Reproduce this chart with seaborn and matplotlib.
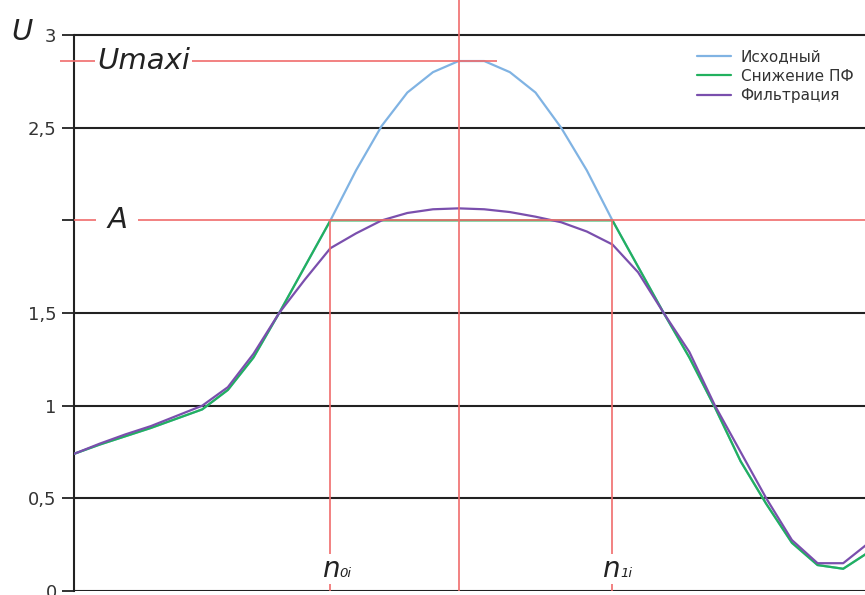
import numpy as np
import pandas as pd
import matplotlib
matplotlib.use("Agg")
import matplotlib.pyplot as plt
import seaborn as sns

# === Data ===
n = list(range(32))

u_source = [0.74, 0.79, 0.835, 0.88, 0.93, 0.98, 1.085, 1.26, 1.50, 1.75,
            2.00, 2.27, 2.51, 2.69, 2.80, 2.86, 2.86, 2.80, 2.69, 2.50,
            2.27, 2.00, 1.75, 1.50, 1.26, 0.99, 0.70, 0.47, 0.26, 0.14,
            0.12, 0.21]

u_clipped = [0.74, 0.79, 0.835, 0.88, 0.93, 0.98, 1.085, 1.26, 1.50, 1.75,
             2.00, 2.00, 2.00, 2.00, 2.00, 2.00, 2.00, 2.00, 2.00, 2.00,
             2.00, 2.00, 1.75, 1.50, 1.26, 0.99, 0.70, 0.47, 0.26, 0.14,
             0.12, 0.21]

u_filtered = [0.74, 0.795, 0.845, 0.89, 0.945, 1.00, 1.10, 1.28, 1.50, 1.68,
              1.85, 1.93, 2.00, 2.04, 2.06, 2.065, 2.06, 2.045, 2.02, 1.99,
              1.94, 1.87, 1.72, 1.50, 1.29, 1.00, 0.75, 0.50, 0.275, 0.15,
              0.15, 0.26]

series_names = ["Исходный", "Снижение ПФ", "Фильтрация"]
colors = ["#80B3E3", "#22B15E", "#7A4FAD"]

y_ticks = [0, 0.5, 1, 1.5, 2, 2.5, 3]
y_labels = ["0", "0,5", "1", "1,5", "", "2,5", "3"]
grid_levels = [0, 0.5, 1, 1.5, 2.5, 3]

level_a = 2.0
level_umax = 2.86
n0 = 10
n1 = 21
n_center = 15

# === Setup ===
sns.set_theme(style="white")
plt.rcParams["font.family"] = ["DejaVu Sans"]

df = pd.DataFrame({
    "n": n * 3,
    "U": u_source + u_clipped + u_filtered,
    "series": [series_names[0]] * len(n) + [series_names[1]] * len(n) + [series_names[2]] * len(n),
})

W, H = 865, 595
fig = plt.figure(figsize=(W / 100, H / 100), dpi=100)
ax = fig.add_axes([74 / W, 4 / H, 1 - 74 / W, 591 / H])

red = "#F06C6C"
dark = "#222222"

for g in grid_levels:
    ax.axhline(g, color=dark, lw=1.5, zorder=1)

sns.lineplot(data=df, x="n", y="U", hue="series", hue_order=series_names,
             palette=colors, linewidth=1.6, ax=ax, zorder=3)

# red construction lines
ax.hlines(level_a, 0, 31, color=red, lw=1.2, zorder=4, clip_on=False)
ax.hlines(level_umax, -0.55, 16.5, color=red, lw=1.2, zorder=4, clip_on=False)
ax.vlines([n0, n1], 0, level_a, color=red, lw=1.2, zorder=4)
ax.axvline(n_center, color=red, lw=1.2, zorder=4)

ax.set_xlim(0, (W - 74) / 25.64)
ax.set_ylim(0, 591 / 185.3)

for side in ["top", "right", "bottom"]:
    ax.spines[side].set_visible(False)
ax.spines["left"].set_bounds(0, 3)
ax.spines["left"].set_color(dark)
ax.spines["left"].set_linewidth(1.5)

ax.set_xticks([])
ax.set_yticks(y_ticks)
ax.set_yticklabels(y_labels)
ax.tick_params(axis="y", direction="out", length=9, width=1.3, color=dark,
               pad=3.5, labelsize=13, labelcolor="#333333", left=True)
ax.set_xlabel("")
ax.set_ylabel("")

# labels on the construction lines
ax.text(1.68, level_a, "A", fontsize=21, style="italic", color="#222222",
        ha="center", va="center", zorder=5,
        bbox=dict(facecolor="white", edgecolor="none", pad=8))
ax.text(0.9, level_umax, "Umaxi", fontsize=21, style="italic", color="#222222",
        ha="left", va="center", zorder=5,
        bbox=dict(facecolor="white", edgecolor="none", pad=1.5))

for x_n, x_sub, sub in [(9.67, 10.36, "0i"), (20.6, 21.29, "1i")]:
    ax.text(x_n, 0.076, "n", fontsize=20, style="italic", color="#222222",
            ha="left", va="baseline", zorder=5,
            bbox=dict(facecolor="white", edgecolor="none", pad=1))
    ax.text(x_sub, 0.076, sub, fontsize=9.5, style="italic", color="#222222",
            ha="left", va="baseline", zorder=6)

fig.text(11 / W, 1 - 40 / H, "U", fontsize=21, style="italic", color="#222222",
         ha="left", va="baseline")

handles, labels = ax.get_legend_handles_labels()
ax.legend(handles, labels, loc="upper left", frameon=False, fontsize=11,
          bbox_to_anchor=(697 / W, 1 - 49 / H), bbox_transform=fig.transFigure,
          borderpad=0, borderaxespad=0, handlelength=2.2, handletextpad=0.65,
          labelspacing=0.3, labelcolor="#333333")

fig.savefig("out.png", dpi=100)
